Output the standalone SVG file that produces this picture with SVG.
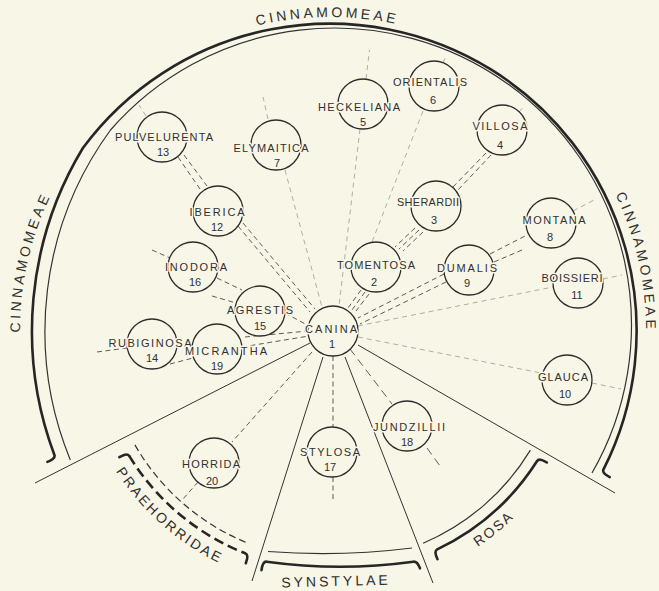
<svg xmlns="http://www.w3.org/2000/svg" width="659" height="591" viewBox="0 0 659 591">
<defs>
<style>
.bg{fill:#f8f6e7}
.node circle{fill:#f8f6e7;stroke:#2b2b2b;stroke-width:1.3}
.node text{font-family:"Liberation Sans",Arial,sans-serif;font-size:11px;fill:#303030;text-anchor:middle;stroke:#f8f6e7;stroke-width:3px;paint-order:stroke;stroke-linejoin:round}
.dk{fill:none;stroke:#4a4a4a;stroke-width:0.9;stroke-dasharray:5 3.5}
.lt{fill:none;stroke:#9a9a9a;stroke-width:0.8;stroke-dasharray:5 4}
.div{stroke:#333;stroke-width:1;fill:none}
.thin{fill:none;stroke:#333;stroke-width:1.2}
.thick{fill:none;stroke:#262626;stroke-width:2.6;stroke-linecap:round}
.thindash{fill:none;stroke:#333;stroke-width:1.2;stroke-dasharray:7 4}
.thickdash{fill:none;stroke:#262626;stroke-width:2.6;stroke-dasharray:10 5}
.lbl{font-family:"Liberation Sans",Arial,sans-serif;font-size:14px;fill:#2e2e2e;letter-spacing:3.3px}
</style>
<path id="pTop" d="M173.5,58.9 A313,313 0 0 1 481.7,56.2"/>
<path id="pLeft" d="M34,422.2 A310,310 0 0 1 102.2,119.8"/>
<path id="pRight" d="M563,116.5 A316,316 0 0 1 631.4,425"/>
<path id="pPrae" d="M87.9,413 A258.5,258.5 0 0 0 281.5,584.3"/>
<path id="pRosa" d="M374.1,587.7 A260,260 0 0 0 575.9,423.7"/>
</defs>
<rect class="bg" x="0" y="0" width="659" height="591"/>

<g id="brackets">
<path class="thin" d="M70.3,460 A341,341 0 0 1 110.5,130 A297,297 0 0 1 592,473"/>
<path class="thick" d="M47.4,461.9 Q55.8,458.7 54.4,455 A354,354 0 0 1 82.9,148 A307,307 0 0 1 603.5,469.4 Q601.7,473 609.7,477.1"/>
<path class="thindash" d="M134.9,444.9 A228.5,228.5 0 0 0 248.1,543.2"/>
<path class="thickdash" d="M129.2,455.9 A239,239 0 0 0 245.4,553.4"/>
<path class="thick" d="M119.4,457.2 Q127.1,452.5 129.2,455.9"/>
<path class="thick" d="M245.4,553.4 Q249.1,554.9 245.8,563.2"/>
<path class="thin" d="M268,551.5 Q340,557 412,548"/>
<path class="thick" d="M261.5,570.1 Q262.7,561.2 266.7,561.7 Q340,571.7 413.3,561.7 Q417.3,561.2 420,568.3"/>
<path class="thin" d="M423.1,543.2 A230.5,230.5 0 0 0 530.4,450.1"/>
<path class="thick" d="M437.5,559.2 Q433.6,551.1 437.2,549.4 A242,242 0 0 0 537.1,461 Q539.3,457.6 546.8,462.5"/>
</g>

<g id="dividers">
<line class="div" x1="310" y1="343" x2="35" y2="483"/>
<line class="div" x1="323" y1="357" x2="252" y2="581"/>
<line class="div" x1="345" y1="357" x2="433" y2="583"/>
<line class="div" x1="358" y1="345" x2="615" y2="493"/>
</g>

<g id="group-labels">
<text class="lbl" text-anchor="middle"><textPath href="#pTop" startOffset="50%">CINNAMOMEAE</textPath></text>
<text class="lbl" text-anchor="middle"><textPath href="#pLeft" startOffset="50%">CINNAMOMEAE</textPath></text>
<text class="lbl" text-anchor="middle"><textPath href="#pRight" startOffset="50%">CINNAMOMEAE</textPath></text>
<text class="lbl" text-anchor="middle" style="letter-spacing:2.4px"><textPath href="#pPrae" startOffset="50%">PRAEHORRIDAE</textPath></text>
<text class="lbl" text-anchor="middle" style="letter-spacing:2px"><textPath href="#pRosa" startOffset="50%">ROSA</textPath></text>
<text class="lbl" text-anchor="middle" x="336" y="586" style="letter-spacing:3px" transform="rotate(-1.5 336 580)">SYNSTYLAE</text>
</g>

<g id="connectors">
<line class="dk" x1="238" y1="226" x2="310" y2="312"/>
<line class="dk" x1="243" y1="223" x2="315" y2="309"/>
<line class="dk" x1="178" y1="157" x2="200" y2="189"/>
<line class="dk" x1="184" y1="155" x2="207" y2="186"/>
<line class="dk" x1="486" y1="153" x2="451" y2="189"/>
<line class="dk" x1="491" y1="155" x2="457" y2="191"/>
<line class="dk" x1="415" y1="228" x2="395" y2="247"/>
<line class="dk" x1="419" y1="230" x2="399" y2="249"/>
<line class="dk" x1="423" y1="232" x2="403" y2="251"/>
<line class="dk" x1="361" y1="290" x2="348" y2="308"/>
<line class="dk" x1="365" y1="292" x2="352" y2="310"/>
<line class="dk" x1="369" y1="294" x2="356" y2="311"/>
<line class="dk" x1="444" y1="274" x2="358" y2="318"/>
<line class="dk" x1="446" y1="282" x2="360" y2="324"/>
<line class="dk" x1="490" y1="254" x2="527" y2="235"/>
<line class="dk" x1="494" y1="262" x2="522" y2="250"/>
<line class="dk" x1="217" y1="278" x2="242" y2="290"/>
<line class="dk" x1="212" y1="296" x2="236" y2="303"/>
<line class="dk" x1="285" y1="313" x2="309" y2="326"/>
<line class="dk" x1="245" y1="337" x2="308" y2="331"/>
<line class="dk" x1="242" y1="347" x2="309" y2="336"/>
<line class="dk" x1="97" y1="352" x2="127" y2="348"/>
<line class="dk" x1="170" y1="364" x2="193" y2="358"/>
<line class="dk" x1="152" y1="250" x2="170" y2="258"/>
<line class="dk" x1="312" y1="352" x2="232" y2="442"/>
<line class="dk" x1="198" y1="482" x2="183" y2="499"/>
<line class="dk" x1="333" y1="356" x2="333" y2="427"/>
<line class="dk" x1="333" y1="477" x2="333" y2="502"/>
<line class="dk" x1="350" y1="349" x2="392" y2="404" style="stroke-dasharray:8 5"/>
<line class="dk" x1="427" y1="448" x2="440" y2="466" style="stroke-dasharray:8 5"/>
<line class="lt" x1="285" y1="170" x2="322" y2="307"/>
<line class="lt" x1="268" y1="119" x2="263" y2="97"/>
<line class="lt" x1="360" y1="129" x2="339" y2="306"/>
<line class="lt" x1="366" y1="79" x2="369.5" y2="50"/>
<line class="lt" x1="423" y1="111" x2="372" y2="242"/>
<line class="lt" x1="443" y1="63" x2="446" y2="56"/>
<line class="lt" x1="519" y1="112" x2="525" y2="105"/>
<line class="lt" x1="146" y1="116" x2="139" y2="105"/>
<line class="lt" x1="573" y1="211" x2="596" y2="199"/>
<line class="lt" x1="358" y1="326" x2="553" y2="287"/>
<line class="lt" x1="603" y1="279" x2="622" y2="275"/>
<line class="lt" x1="358" y1="337" x2="541" y2="373"/>
<line class="lt" x1="592" y1="383" x2="621" y2="389"/>
</g>

<g id="n1" class="node"><circle cx="333" cy="331" r="25"/><text x="331" y="333" textLength="52" lengthAdjust="spacing">CANINA</text><text x="332" y="348">1</text></g>
<g id="n2" class="node"><circle cx="376" cy="267" r="25"/><text x="376" y="269" textLength="78" lengthAdjust="spacing">TOMENTOSA</text><text x="374" y="286">2</text></g>
<g id="n3" class="node"><circle cx="436" cy="206" r="25"/><text x="428" y="206" textLength="62" lengthAdjust="spacing">SHERARDII</text><text x="434" y="224">3</text></g>
<g id="n4" class="node"><circle cx="502" cy="130" r="25"/><text x="500" y="130" textLength="55" lengthAdjust="spacing">VILLOSA</text><text x="500" y="149">4</text></g>
<g id="n5" class="node"><circle cx="363" cy="104" r="25"/><text x="359" y="111" textLength="82" lengthAdjust="spacing">HECKELIANA</text><text x="363" y="126">5</text></g>
<g id="n6" class="node"><circle cx="434" cy="86" r="25"/><text x="430" y="86" textLength="74" lengthAdjust="spacing">ORIENTALIS</text><text x="433" y="104">6</text></g>
<g id="n7" class="node"><circle cx="276" cy="145" r="25"/><text x="271" y="152" textLength="75" lengthAdjust="spacing">ELYMAITICA</text><text x="277" y="167">7</text></g>
<g id="n8" class="node"><circle cx="551" cy="223" r="25"/><text x="554" y="224" textLength="63" lengthAdjust="spacing">MONTANA</text><text x="550" y="241">8</text></g>
<g id="n9" class="node"><circle cx="469" cy="270" r="25"/><text x="467" y="272" textLength="60" lengthAdjust="spacing">DUMALIS</text><text x="467" y="287">9</text></g>
<g id="n10" class="node"><circle cx="567" cy="380" r="25"/><text x="563" y="381" textLength="50" lengthAdjust="spacing">GLAUCA</text><text x="565" y="398">10</text></g>
<g id="n11" class="node"><circle cx="578" cy="283" r="25"/><text x="572" y="282" textLength="61" lengthAdjust="spacing">BOISSIERI</text><text x="577" y="299">11</text></g>
<g id="n12" class="node"><circle cx="218" cy="211" r="25"/><text x="217" y="216" textLength="55" lengthAdjust="spacing">IBERICA</text><text x="217" y="231">12</text></g>
<g id="n13" class="node"><circle cx="162" cy="137" r="25"/><text x="164" y="141" textLength="98" lengthAdjust="spacing">PULVELURENTA</text><text x="163" y="156">13</text></g>
<g id="n14" class="node"><circle cx="152" cy="344" r="25"/><text x="150" y="347" textLength="83" lengthAdjust="spacing">RUBIGINOSA</text><text x="152" y="362">14</text></g>
<g id="n15" class="node"><circle cx="260" cy="311" r="25"/><text x="260" y="314" textLength="66" lengthAdjust="spacing">AGRESTIS</text><text x="260" y="330">15</text></g>
<g id="n16" class="node"><circle cx="193" cy="267" r="25"/><text x="196" y="271" textLength="62" lengthAdjust="spacing">INODORA</text><text x="195" y="286">16</text></g>
<g id="n17" class="node"><circle cx="332" cy="452" r="25"/><text x="330" y="456" textLength="60" lengthAdjust="spacing">STYLOSA</text><text x="330" y="471">17</text></g>
<g id="n18" class="node"><circle cx="407" cy="426" r="25"/><text x="409" y="431" textLength="72" lengthAdjust="spacing">JUNDZILLII</text><text x="407" y="446">18</text></g>
<g id="n19" class="node"><circle cx="217" cy="349" r="25"/><text x="226" y="355" textLength="82" lengthAdjust="spacing">MICRANTHA</text><text x="217" y="370">19</text></g>
<g id="n20" class="node"><circle cx="214" cy="463" r="25"/><text x="211" y="468" textLength="58" lengthAdjust="spacing">HORRIDA</text><text x="212" y="485">20</text></g>
</svg>
